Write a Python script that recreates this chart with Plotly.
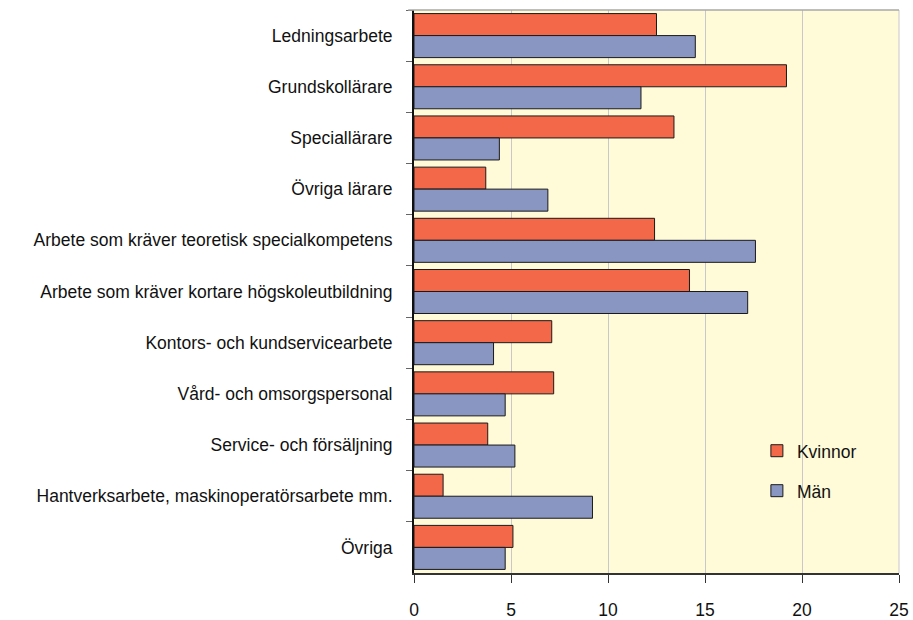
import plotly.graph_objects as go

categories = [
    "Ledningsarbete",
    "Grundskollärare",
    "Speciallärare",
    "Övriga lärare",
    "Arbete som kräver teoretisk specialkompetens",
    "Arbete som kräver kortare högskoleutbildning",
    "Kontors- och kundservicearbete",
    "Vård- och omsorgspersonal",
    "Service- och försäljning",
    "Hantverksarbete, maskinoperatörsarbete mm.",
    "Övriga",
]
kvinnor = [12.5, 19.2, 13.4, 3.7, 12.4, 14.2, 7.1, 7.2, 3.8, 1.5, 5.1]
man = [14.5, 11.7, 4.4, 6.9, 17.6, 17.2, 4.1, 4.7, 5.2, 9.2, 4.7]
x_ticks = [0, 5, 10, 15, 20, 25]

FONT = "Liberation Sans, Arial, sans-serif"

fig = go.Figure()
fig.add_trace(go.Bar(
    y=categories, x=kvinnor, orientation="h", name="Kvinnor",
    marker=dict(color="#F26849", line=dict(color="#1a1a1a", width=1)),
    legend="legend",
))
fig.add_trace(go.Bar(
    y=categories, x=man, orientation="h", name="Män",
    marker=dict(color="#8A96C2", line=dict(color="#1a1a1a", width=1)),
    legend="legend2",
))

fig.update_layout(
    width=913, height=620,
    margin=dict(l=414, r=14, t=10, b=47),
    paper_bgcolor="white",
    plot_bgcolor="#FFFAD7",
    barmode="group",
    bargap=0.14,
    bargroupgap=0,
    font=dict(family=FONT, size=17.5, color="#111111"),
    legend=dict(x=0.707, y=0.217, xanchor="left", yanchor="middle",
                bgcolor="rgba(0,0,0,0)", font=dict(size=17.5)),
    legend2=dict(x=0.707, y=0.146, xanchor="left", yanchor="middle",
                 bgcolor="rgba(0,0,0,0)", font=dict(size=17.5)),
    showlegend=True,
)

fig.update_xaxes(
    range=[0, 25], tickvals=x_ticks, ticktext=[str(v) for v in x_ticks],
    showgrid=True, gridcolor="#C8C8C8", gridwidth=1,
    ticks="outside", ticklen=8, tickcolor="#333333", tickwidth=1,
    showline=True, linecolor="#333333", linewidth=2,
    zeroline=False, ticklabelstandoff=12, automargin=False,
)
fig.update_yaxes(
    type="category", categoryorder="array", categoryarray=categories,
    autorange="reversed",
    tickson="boundaries", ticks="outside", ticklen=6, tickcolor="#666666", tickwidth=1,
    showline=True, linecolor="#111111", linewidth=2,
    showgrid=False, ticklabelstandoff=16, automargin=False,
)

fig.add_shape(type="line", xref="paper", yref="paper", x0=-0.012, x1=1, y0=1, y1=1,
              line=dict(color="#A8A8A8", width=1.5), layer="above")
fig.add_shape(type="line", xref="paper", yref="paper", x0=1, x1=1, y0=0, y1=1,
              line=dict(color="#C8C8C8", width=1), layer="below")

fig.write_html("out.html", config={"displayModeBar": False},
               post_script="document.body.style.margin='0';document.body.style.overflow='hidden';")
